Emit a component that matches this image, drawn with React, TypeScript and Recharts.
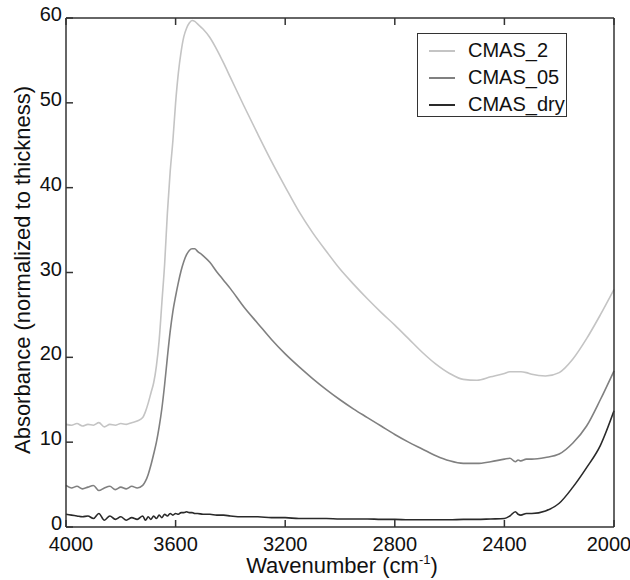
import React from "react";
import { LineChart, Line, XAxis, YAxis, Legend } from "recharts";

// wavenumber grid (cm-1), high to low like the spectrum
const wavenumbers = [
  4000, 3980, 3960, 3940, 3920, 3900, 3880, 3860, 3840, 3820, 3800, 3780, 3760, 3740, 3720,
  3710, 3700, 3690, 3680, 3670, 3660, 3650, 3640, 3630, 3620, 3610, 3600, 3590, 3580, 3570,
  3560, 3550, 3540, 3530, 3520,
  3500, 3475, 3450, 3425, 3400, 3350, 3300, 3250, 3200, 3150, 3100, 3050, 3000, 2950, 2900,
  2850, 2800, 2750, 2700, 2650, 2600, 2550, 2500, 2450, 2400,
  2380, 2360, 2350, 2340, 2320, 2300, 2250, 2200, 2150, 2100, 2050, 2000,
];

const cmas2 = [
  12.1, 12.0, 12.2, 11.9, 12.1, 12.0, 12.3, 11.8, 12.1, 12.0, 12.2, 12.1, 12.3, 12.5, 12.9,
  13.6, 14.6, 15.8, 17.0, 19.0, 22.0, 26.5, 31.0, 37.0, 41.8, 45.5, 50.0, 53.5, 56.0, 57.8,
  58.8, 59.4, 59.7, 59.6, 59.3,
  58.7, 57.7, 56.3, 54.7, 53.0, 49.6, 46.3, 43.1, 40.1, 37.2, 34.7, 32.5, 30.4, 28.6, 26.9,
  25.3, 23.8, 22.2, 20.6, 19.2, 18.1, 17.4, 17.3, 17.7, 18.1,
  18.3, 18.3, 18.3, 18.3, 18.2, 18.0, 17.8, 18.2, 19.8, 22.2, 25.0, 28.0,
];

const cmas05 = [
  4.9, 4.6, 4.8, 4.5, 4.7, 4.9, 4.3, 4.6, 4.8, 4.4, 4.7, 4.5, 4.8, 4.6, 4.9,
  5.4, 6.2, 7.3, 8.6, 10.0, 11.8, 14.0, 16.8, 20.0, 23.0, 25.4, 27.2, 28.8, 30.2, 31.3,
  32.1, 32.6, 32.8, 32.8, 32.5,
  32.0, 31.2, 30.1, 29.1, 28.1, 25.9, 24.0, 22.1, 20.4, 18.9, 17.5, 16.2, 15.0, 13.9, 12.9,
  11.9, 10.9, 10.0, 9.2, 8.4, 7.8, 7.5, 7.5, 7.7, 8.0,
  8.1, 7.7, 7.9, 7.8, 8.0, 8.0, 8.2, 8.6, 9.9, 11.9, 15.0, 18.4,
];

const cmasDry = [
  1.5, 1.4, 1.3, 1.2, 1.3, 1.0, 1.6, 0.8, 1.3, 0.9, 1.2, 0.8, 1.1, 0.9, 1.3,
  0.8, 1.2, 0.9, 1.3, 1.0, 1.4, 1.1, 1.5, 1.3, 1.6, 1.4, 1.6, 1.5, 1.7, 1.7,
  1.8, 1.7, 1.7, 1.6, 1.6,
  1.5, 1.5, 1.4, 1.4, 1.3, 1.2, 1.2, 1.1, 1.1, 1.0, 1.0, 1.0, 0.95, 0.95, 0.95,
  0.9, 0.9, 0.85, 0.85, 0.85, 0.85, 0.9, 0.9, 0.95, 1.0,
  1.3, 1.8, 1.5, 1.4, 1.6, 1.6, 1.9, 2.8, 4.7, 7.0, 9.6, 13.7,
];

const xTicks = [4000, 3600, 3200, 2800, 2400, 2000];
const yTicks = [0, 10, 20, 30, 40, 50, 60];

const seriesInfo = [
  { key: "CMAS_2", color: "#c4c4c4" },
  { key: "CMAS_05", color: "#808080" },
  { key: "CMAS_dry", color: "#2a2a2a" },
];

const data = wavenumbers.map((wn, i) => ({
  wn,
  CMAS_2: cmas2[i],
  CMAS_05: cmas05[i],
  CMAS_dry: cmasDry[i],
}));

const FONT = "'Liberation Sans', Arial, Helvetica, sans-serif";
const AXIS = "#333";
const TICK_LEN = 7;

// ticks point into the plot, like the original figure
function BottomTick(props: any) {
  const { x, y, payload } = props;
  // end labels sit a little inside the frame
  const shift = payload.value === 4000 ? 5 : payload.value === 2000 ? -5 : 0;
  return (
    <g>
      <line x1={x} x2={x} y1={y} y2={y - TICK_LEN} stroke={AXIS} strokeWidth={1.5} />
      <text x={x + shift} y={y + 24} textAnchor="middle" fontSize={20} fill="#111" fontFamily={FONT}>
        {payload.value}
      </text>
    </g>
  );
}

function TopTick(props: any) {
  const { x, y } = props;
  return <line x1={x} x2={x} y1={y} y2={y + TICK_LEN} stroke={AXIS} strokeWidth={1.5} />;
}

function LeftTick(props: any) {
  const { x, y, payload } = props;
  return (
    <g>
      <line x1={x} x2={x + TICK_LEN} y1={y} y2={y} stroke={AXIS} strokeWidth={1.5} />
      <text x={x - 4} y={y + 3} textAnchor="end" fontSize={20} fill="#111" fontFamily={FONT}>
        {payload.value}
      </text>
    </g>
  );
}

function RightTick(props: any) {
  const { x, y } = props;
  return <line x1={x} x2={x - TICK_LEN} y1={y} y2={y} stroke={AXIS} strokeWidth={1.5} />;
}

function XTitle() {
  return (
    <text x={342} y={573} textAnchor="middle" fontSize={22} fill="#111" fontFamily={FONT}>
      Wavenumber (cm
      <tspan fontSize={13} dy={-9}>-1</tspan>
      <tspan dy={9}>)</tspan>
    </text>
  );
}

function YTitle() {
  return (
    <text
      x={0}
      y={0}
      transform="translate(30, 270) rotate(-90)"
      textAnchor="middle"
      fontSize={22}
      fill="#111"
      fontFamily={FONT}
    >
      Absorbance (normalized to thickness)
    </text>
  );
}

function LegendBox() {
  return (
    <div
      style={{
        width: 150,
        height: 84,
        border: `1px solid ${AXIS}`,
        boxSizing: "border-box",
        background: "#fff",
        fontFamily: FONT,
        fontSize: 20,
        color: "#111",
        paddingTop: 3,
      }}
    >
      {seriesInfo.map((s) => (
        <div key={s.key} style={{ display: "flex", alignItems: "center", height: 27 }}>
          <div style={{ width: 26, height: 2, background: s.color, marginLeft: 11, marginRight: 13 }} />
          <span>{s.key}</span>
        </div>
      ))}
    </div>
  );
}

export default function App() {
  return (
    <div style={{ position: "absolute", left: 0, top: 0, width: 630, height: 580, background: "#fff" }}>
      <LineChart width={630} height={580} data={data} margin={{ top: 17, right: 15, left: 0, bottom: 0 }}>
        <XAxis
          dataKey="wn"
          type="number"
          domain={[2000, 4000]}
          reversed
          ticks={xTicks}
          interval={0}
          height={53}
          stroke={AXIS}
          strokeWidth={1.5}
          tickLine={false}
          tickSize={0}
          tickMargin={0}
          tick={BottomTick}
          label={<XTitle />}
        />
        <XAxis
          xAxisId="top"
          dataKey="wn"
          type="number"
          domain={[2000, 4000]}
          reversed
          orientation="top"
          ticks={xTicks}
          interval={0}
          height={1}
          stroke={AXIS}
          strokeWidth={1.5}
          tickLine={false}
          tickSize={0}
          tickMargin={0}
          tick={TopTick}
        />
        <YAxis
          type="number"
          domain={[0, 60]}
          ticks={yTicks}
          interval={0}
          width={66}
          stroke={AXIS}
          strokeWidth={1.5}
          tickLine={false}
          tickSize={0}
          tickMargin={0}
          tick={LeftTick}
          label={<YTitle />}
        />
        <YAxis
          yAxisId="right"
          orientation="right"
          type="number"
          domain={[0, 60]}
          ticks={yTicks}
          interval={0}
          width={1}
          stroke={AXIS}
          strokeWidth={1.5}
          tickLine={false}
          tickSize={0}
          tickMargin={0}
          tick={RightTick}
        />
        <Legend
          layout="horizontal"
          verticalAlign="middle"
          align="center"
          content={() => <LegendBox />}
          wrapperStyle={{ left: 417, top: 33, width: 150, height: 84 }}
        />
        {seriesInfo.map((s) => (
          <Line
            key={s.key}
            dataKey={s.key}
            type="monotone"
            stroke={s.color}
            strokeWidth={1.6}
            dot={false}
            activeDot={false}
            isAnimationActive={false}
          />
        ))}
      </LineChart>
    </div>
  );
}
